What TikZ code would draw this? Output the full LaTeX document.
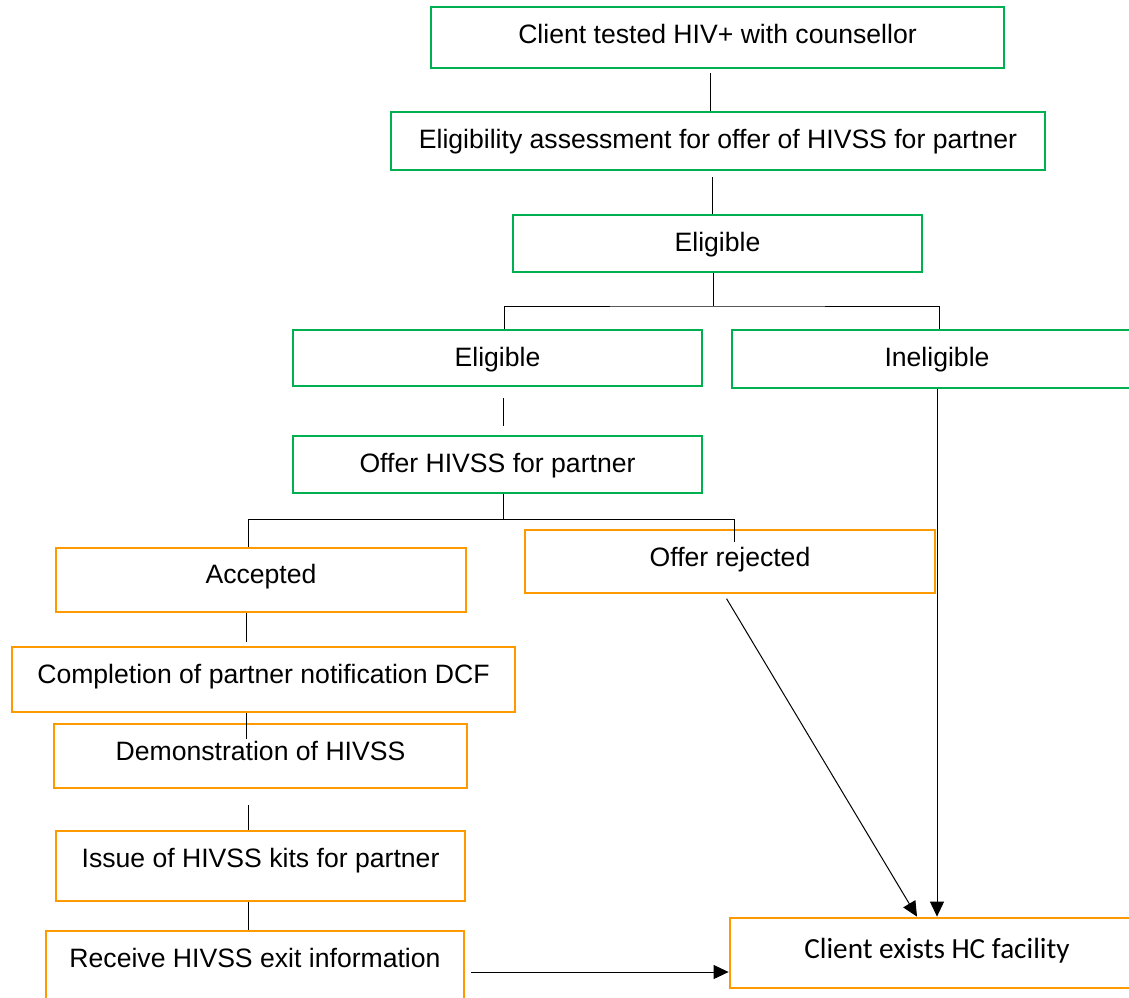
\documentclass[tikz,border=0pt]{standalone}
\usepackage{fontspec}
\setmainfont{Liberation Sans}
\newfontfamily\calibri{Carlito}
\usetikzlibrary{arrows.meta}
\definecolor{boxgreen}{RGB}{0,176,80}
\definecolor{boxorange}{RGB}{255,153,0}

\begin{document}
\begin{tikzpicture}[x=1pt,y=-1pt,>={Triangle[length=15pt,width=14pt]},line width=1pt,
    box/.style={draw,line width=2.8pt,rectangle,inner sep=0pt,text height=19pt,text depth=0pt,
                font=\fontsize{26.6}{32}\selectfont},
    greenbox/.style={box,draw=boxgreen},
    orangebox/.style={box,draw=boxorange},
    lift/.style={text depth=#1}]

                \clip (0,0) rectangle (1129,997);

                % counsellor side
                \node[greenbox,minimum width=573pt,minimum height=61pt,lift=7pt] (test) at (717.5,37.5) {Client tested HIV+ with counsellor};
                \node[greenbox,minimum width=654pt,minimum height=58pt,lift=4pt] (assess) at (718,141) {Eligibility assessment for offer of HIVSS for partner};
                \node[greenbox,minimum width=409pt,minimum height=57pt,lift=4pt] (eligA) at (717.5,243.5) {Eligible};
                \node[greenbox,minimum width=409pt,minimum height=56pt,lift=3pt] (eligB) at (497.5,358) {Eligible};
                \node[greenbox,minimum width=410pt,minimum height=58pt,lift=4pt] (inelig) at (937,359) {Ineligible};
                \node[greenbox,minimum width=409pt,minimum height=57pt,lift=4pt] (offer) at (497.5,464.5) {Offer HIVSS for partner};

                % client side
                \node[orangebox,minimum width=410pt,minimum height=64pt,lift=12pt] (acc) at (261,580) {Accepted};
                \node[orangebox,minimum width=410pt,minimum height=63pt,lift=9pt] (rej) at (730,561.5) {Offer rejected};
                \node[orangebox,minimum width=503pt,minimum height=65pt,lift=12pt] (dcf) at (263.5,679.5) {Completion of partner notification DCF};
                \node[orangebox,minimum width=413pt,minimum height=64pt,lift=10pt] (demo) at (260.5,756) {Demonstration of HIVSS};
                \node[orangebox,minimum width=409pt,minimum height=70pt,lift=17pt] (kits) at (260.5,866) {Issue of HIVSS kits for partner};
                \node[orangebox,minimum width=418pt,minimum height=70pt,lift=17pt] (exitinfo) at (255,966) {Receive HIVSS exit information};
                \node[orangebox,minimum width=414pt,minimum height=70pt,lift=8pt,font=\calibri\fontsize{29.2}{35}\selectfont] (leave) at (937,953) {Client exists HC facility};

                \coordinate (fork1) at (713,306);
                \coordinate (fork2) at (503,519);

                \draw[shorten <=4pt] ([xshift=-7.5pt]test.south) -- ([xshift=-7.5pt]test.south |- assess.north);
                \draw[shorten <=6pt] ([xshift=-5.5pt]assess.south) -- ([xshift=-5.5pt]assess.south |- eligA.north);
                \draw ([xshift=-4.5pt]eligA.south) -- (fork1);
                \draw ([xshift=6.5pt]eligB.north) |- (fork1) -| ([xshift=2pt]inelig.north);
                \draw[shorten <=11pt,shorten >=9pt] ([xshift=5.5pt]eligB.south) -- ([xshift=5.5pt]eligB.south |- offer.north);
                \draw ([xshift=5.5pt]offer.south) -- (fork2);
                \draw ([xshift=-12.5pt]acc.north) |- (fork2) -| ([xshift=4pt,yshift=-13pt]rej.north);
                \draw[shorten >=4pt] ([xshift=-15pt]acc.south) -- ([xshift=-15pt]acc.south |- dcf.north);
                \draw ([xshift=-17.5pt]dcf.south) -- ([xshift=-14.5pt,yshift=-16pt]demo.north);
                \draw[shorten <=16pt] ([xshift=-12.5pt]demo.south) -- ([xshift=-12.5pt]demo.south |- kits.north);
                \draw ([xshift=-12.5pt]kits.south) -- ([xshift=-12.5pt]kits.south |- exitinfo.north);

                \path[->] ([yshift=-6pt]exitinfo.east) edge[shorten <=6pt] ([yshift=-6pt]exitinfo.east -| leave.west)
                          ([xshift=-6pt]rej.south) edge[shorten <=5pt] ([xshift=-20pt]leave.north)
                          (inelig.south) edge (inelig.south |- leave.north);

\end{tikzpicture}
\end{document}
